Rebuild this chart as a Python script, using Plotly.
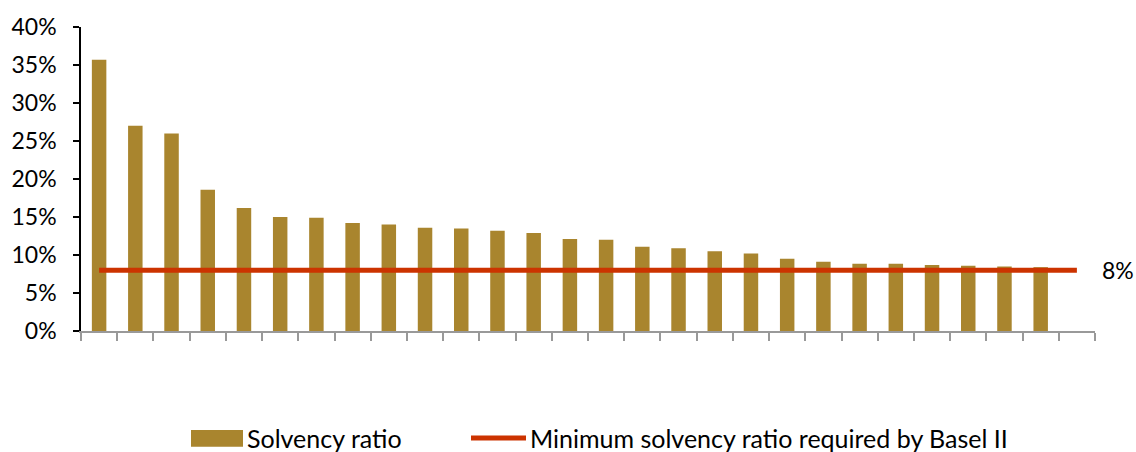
import plotly.graph_objects as go

# 28 category slots on the x axis; the last one holds no bar
categories = list(range(1, 29))
solvency_ratio = [0.357, 0.270, 0.260, 0.186, 0.162, 0.150, 0.149, 0.142, 0.140,
                  0.136, 0.135, 0.132, 0.129, 0.121, 0.120, 0.111, 0.109, 0.105,
                  0.102, 0.095, 0.091, 0.0885, 0.0885, 0.087, 0.086, 0.085, 0.084]
basel_min = [0.08] * 28

BAR_COLOR = '#A9852E'
LINE_COLOR = '#CC3300'
FONT = 'Lato'

# plot area in pixels (for the hand-drawn legend)
L, R, T, B = 81, 1095, 21, 331


def px_x(x):
    return (x - L) / (R - L)


def px_y(y):
    return (B - y) / (B - T)


fig = go.Figure()

fig.add_trace(go.Bar(
    x=categories[:len(solvency_ratio)],
    y=solvency_ratio,
    name='Solvency ratio',
    marker=dict(color=BAR_COLOR, line=dict(width=0)),
))

fig.add_trace(go.Scatter(
    x=categories,
    y=basel_min,
    mode='lines',
    name='Minimum solvency ratio required by Basel II',
    line=dict(color=LINE_COLOR, width=5),
))

fig.update_layout(
    width=1136,
    height=452,
    margin=dict(l=L, r=1136 - R, t=T, b=452 - B),
    plot_bgcolor='white',
    paper_bgcolor='white',
    showlegend=False,
    bargap=0.6,
    font=dict(family=FONT, size=23, color='black'),
)

fig.update_xaxes(
    type='category',
    tickson='boundaries',
    showticklabels=False,
    ticks='outside',
    ticklen=8,
    tickcolor='#999999',
    tickwidth=1.5,
    showline=True,
    linecolor='#999999',
    linewidth=1.5,
    showgrid=False,
    range=[-0.5, 27.5],
)

fig.update_yaxes(
    range=[0, 0.40],
    dtick=0.05,
    tickformat='.0%',
    ticks='outside',
    ticklen=6,
    tickcolor='black',
    tickwidth=1.5,
    showline=True,
    linecolor='black',
    linewidth=1.5,
    showgrid=False,
    zeroline=False,
    ticklabelstandoff=12,
)

# "8%" label next to the end of the Basel II line
fig.add_annotation(
    x=px_x(1100), xref='paper', y=basel_min[-1], yref='y',
    text='8%', showarrow=False, xanchor='left', yanchor='middle',
    font=dict(family=FONT, size=23),
)

# legend drawn by hand to get Excel-like swatches
fig.add_shape(type='rect', xref='paper', yref='paper',
              x0=px_x(191), x1=px_x(243), y0=px_y(449), y1=px_y(432),
              fillcolor=BAR_COLOR, line=dict(width=0))
fig.add_annotation(x=px_x(245), xref='paper', y=px_y(440), yref='paper',
                   text='Solvency ratio', showarrow=False,
                   xanchor='left', yanchor='middle', font=dict(family=FONT, size=25))
fig.add_shape(type='line', xref='paper', yref='paper',
              x0=px_x(471), x1=px_x(526), y0=px_y(440), y1=px_y(440),
              line=dict(color=LINE_COLOR, width=5))
fig.add_annotation(x=px_x(528), xref='paper', y=px_y(440), yref='paper',
                   text='Minimum solvency ratio required by Basel II', showarrow=False,
                   xanchor='left', yanchor='middle', font=dict(family=FONT, size=25))

fig.write_html('out.html', config={'displayModeBar': False},
               post_script="document.body.style.margin='0';")
